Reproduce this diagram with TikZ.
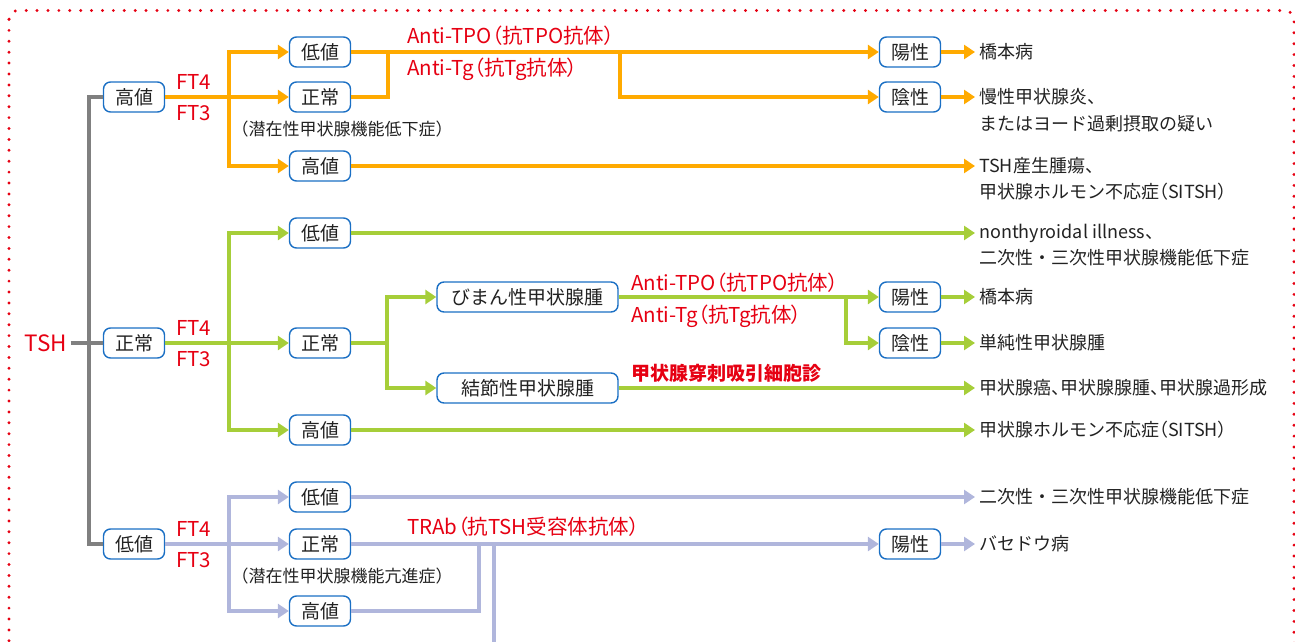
\documentclass[tikz,border=0pt]{standalone}
\usepackage{fontspec}
\setmainfont{Noto Sans CJK JP}
\newfontfamily\pf[RawFeature={+palt}]{Noto Sans CJK JP}
\usetikzlibrary{arrows.meta}
\definecolor{ora}{RGB}{255,170,0}
\definecolor{grn}{RGB}{166,206,57}
\definecolor{lav}{RGB}{176,182,220}
\definecolor{gry}{RGB}{128,128,128}
\definecolor{bblue}{RGB}{26,111,196}
\definecolor{lred}{RGB}{230,0,18}
\definecolor{ink}{RGB}{34,34,34}
\newcommand\fA{\fontsize{18pt}{22pt}\selectfont}
\newcommand\fBox{\fontsize{19pt}{22pt}\selectfont}
\newcommand\fB{\fontsize{17pt}{21pt}\selectfont}
\newcommand\fR{\pf\fontsize{20.5pt}{24pt}\selectfont}
\newcommand\lp{{\pf （}}
\newcommand\rp{{\pf ）}}
\tikzset{
  box/.style={draw=bblue, line width=1.4pt, rounded corners=7pt, fill=white,
    minimum width=61pt, minimum height=30pt, inner sep=0pt, font=\fBox, text=ink},
  wbox/.style={box, minimum width=181pt},
  lbl/.style={font=\fR, text=lred, inner sep=0pt, anchor=west},
  blbl/.style={font=\pf\fontsize{19pt}{23pt}\selectfont\bfseries, text=lred, inner sep=0pt, anchor=west},
  res/.style={font=\fA, text=ink, inner xsep=4pt, inner ysep=0pt, anchor=west},
  note/.style={font=\fB, text=ink, inner sep=0pt},
  ln/.style={line width=4pt, line join=miter},
  ar/.style={-{Triangle[length=11pt,width=14pt]}},
}
\begin{document}
\begin{tikzpicture}[x=1pt,y=-1pt]
\useasboundingbox (0,0) rectangle (1295,642);
\clip (0,0) rectangle (1295,642);
% border
\draw[lred, line width=3.2pt, dash pattern=on 0pt off 10.9pt, line cap=round, rounded corners=9pt]
  (9,10.5) rectangle (1294,652);

% level 1
\node[font=\fontsize{22.5pt}{26pt}\selectfont, text=lred, inner xsep=3.5pt, inner ysep=0pt, anchor=east] (tsh) at (70.5,343) {TSH};
\node[box] (h1) at (134,97) {高値};
\node[box] (n1) at (134,343) {正常};
\node[box] (l1) at (134,544) {低値};
\coordinate (gx) at (89,343);
\draw[ln, gry] (h1.west) -| (gx) |- (l1.west);
\draw[ln, gry] (tsh.east) -- (n1.west);

\foreach \y in {97,343,544}{
  \node[lbl] at (176,\y-15) {FT4};
  \node[lbl] at (176,\y+16) {FT3};
}

% ---------- orange ----------
\node[box] (a1) at (320,52) {低値};
\node[box] (a2) at (320,97) {正常};
\node[box] (a3) at (320,166) {高値};
\node[box] (p1) at (910,52) {陽性};
\node[box] (q1) at (910,97) {陰性};
\coordinate (oj) at (229,97);
\coordinate (oj2) at (388,52);
\coordinate (oj3) at (620,52);
\draw[ln, ora] (h1.east) -- (oj);
\draw[ln, ora, ar] (oj) |- (a1.west);
\draw[ln, ora, ar] (oj) -- (a2.west);
\draw[ln, ora, ar] (oj) |- (a3.west);
\draw[ln, ora] (a2.east) -| (oj2);
\draw[ln, ora, ar] (a1.east) -- (p1.west);
\draw[ln, ora, ar] (oj3) |- (q1.west);
\node[note] (sub1) at (342,129) {（潜在性甲状腺機能低下症）};
\node[lbl] (tpo1) at (407,36) {Anti-TPO（抗TPO抗体）};
\node[lbl] (tg1) at (407,69) {Anti-Tg（抗Tg抗体）};
\node[res] (r1) at (975,52) {橋本病};
\node[res] (r2) at (975,97) {慢性甲状腺炎、};
\node[res] (r2b) at (975,124) {またはヨード過剰摂取の疑い};
\node[res] (r3) at (975,166) {TSH産生腫瘍、};
\node[res] (r3b) at (975,192) {甲状腺ホルモン不応症\lp SITSH\rp};
\draw[ln, ora, ar] (p1.east) -- (r1.west);
\draw[ln, ora, ar] (q1.east) -- (r2.west);
\draw[ln, ora, ar] (a3.east) -- (r3.west);

% ---------- green ----------
\node[box] (b1) at (320,233) {低値};
\node[box] (b2) at (320,343) {正常};
\node[box] (b3) at (320,430) {高値};
\node[wbox] (d1) at (527.5,297) {びまん性甲状腺腫};
\node[wbox] (d2) at (527.5,388) {結節性甲状腺腫};
\node[box] (gp1) at (910,297) {陽性};
\node[box] (gq1) at (910,343) {陰性};
\coordinate (gj) at (229,343);
\coordinate (gj2) at (387,343);
\coordinate (gj3) at (846,297);
\draw[ln, grn] (n1.east) -- (gj);
\draw[ln, grn, ar] (gj) |- (b1.west);
\draw[ln, grn, ar] (gj) -- (b2.west);
\draw[ln, grn, ar] (gj) |- (b3.west);
\draw[ln, grn] (b2.east) -- (gj2);
\draw[ln, grn, ar] (gj2) |- (d1.west);
\draw[ln, grn, ar] (gj2) |- (d2.west);
\draw[ln, grn, ar] (d1.east) -- (gp1.west);
\draw[ln, grn, ar] (gj3) |- (gq1.west);
\node[lbl] (tpo2) at (631,283) {Anti-TPO（抗TPO抗体）};
\node[lbl] (tg2) at (631,316) {Anti-Tg（抗Tg抗体）};
\node[blbl] (fna) at (631,373) {甲状腺穿刺吸引細胞診};
\node[res] (s1) at (975,233) {nonthyroidal illness、};
\node[res] (s1b) at (975,258) {二次性・三次性甲状腺機能低下症};
\node[res] (s2) at (975,297) {橋本病};
\node[res] (s3) at (975,343) {単純性甲状腺腫};
\node[res] (s4) at (975,388) {甲状腺癌{\pf 、}甲状腺腺腫{\pf 、}甲状腺過形成};
\node[res] (s5) at (975,430) {甲状腺ホルモン不応症\lp SITSH\rp};
\draw[ln, grn, ar] (b1.east) -- (s1.west);
\draw[ln, grn, ar] (gp1.east) -- (s2.west);
\draw[ln, grn, ar] (gq1.east) -- (s3.west);
\draw[ln, grn, ar] (d2.east) -- (s4.west);
\draw[ln, grn, ar] (b3.east) -- (s5.west);

% ---------- lavender ----------
\node[box] (c1) at (320,497) {低値};
\node[box] (c2) at (320,544) {正常};
\node[box] (c3) at (320,611) {高値};
\node[box] (cp1) at (910,544) {陽性};
\coordinate (lj) at (229,544);
\coordinate (lj2) at (479,544);
\coordinate (lj3) at (494,544);
\coordinate (lj4) at (494,660);
\draw[ln, lav] (l1.east) -- (lj);
\draw[ln, lav, ar] (lj) |- (c1.west);
\draw[ln, lav, ar] (lj) -- (c2.west);
\draw[ln, lav, ar] (lj) |- (c3.west);
\draw[ln, lav, ar] (c2.east) -- (cp1.west);
\draw[ln, lav] (c3.east) -| (lj2);
\draw[ln, lav] (lj3) -- (lj4);
\node[note] (sub2) at (342,576) {（潜在性甲状腺機能亢進症）};
\node[lbl] (trab) at (407,527) {TRAb（抗TSH受容体抗体）};
\node[res] (u1) at (975,497) {二次性・三次性甲状腺機能低下症};
\node[res] (u2) at (975,544) {バセドウ病};
\draw[ln, lav, ar] (c1.east) -- (u1.west);
\draw[ln, lav, ar] (cp1.east) -- (u2.west);
\end{tikzpicture}
\end{document}
